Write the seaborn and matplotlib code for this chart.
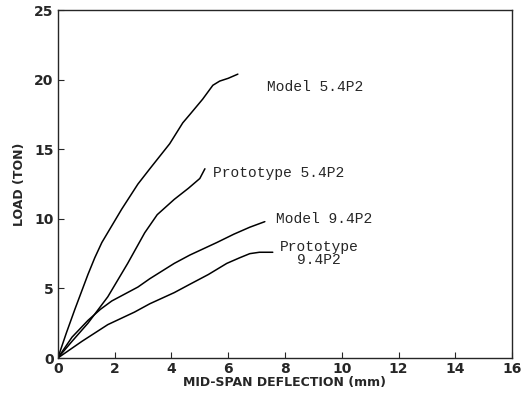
import matplotlib
matplotlib.use("Agg")
import matplotlib.pyplot as plt
import seaborn as sns
import pandas as pd

sns.set_style("ticks")
plt.rcParams['font.family'] = ['DejaVu Sans']

m54_x = [0, 0.3, 0.6, 1.06, 1.3, 1.55, 2.25, 2.82, 3.24, 3.94, 4.4, 4.65, 5.1, 5.46, 5.7, 6.0, 6.34]
m54_y = [0, 1.8, 3.5, 6.0, 7.2, 8.3, 10.7, 12.5, 13.6, 15.4, 16.9, 17.5, 18.6, 19.6, 19.9, 20.1, 20.4]
p54_x = [0, 0.5, 1.06, 1.76, 2.46, 3.06, 3.5, 4.1, 4.6, 5.0, 5.18]
p54_y = [0, 1.2, 2.5, 4.4, 6.8, 9.0, 10.3, 11.4, 12.2, 12.9, 13.6]
m94_x = [0, 0.5, 1.06, 1.5, 1.9, 2.82, 3.24, 4.1, 4.65, 5.6, 6.2, 6.76, 7.29]
m94_y = [0, 1.5, 2.7, 3.5, 4.1, 5.1, 5.7, 6.8, 7.4, 8.3, 8.9, 9.4, 9.8]
p94_x = [0, 0.85, 1.76, 2.7, 3.24, 4.1, 4.65, 5.3, 5.95, 6.4, 6.76, 7.1, 7.57]
p94_y = [0, 1.2, 2.4, 3.3, 3.9, 4.7, 5.3, 6.0, 6.8, 7.2, 7.5, 7.6, 7.6]
names = ["Model 5.4P2", "Prototype 5.4P2", "Model 9.4P2", "Prototype 9.4P2"]

frames = []
for n, xs, ys in zip(names, [m54_x, p54_x, m94_x, p94_x], [m54_y, p54_y, m94_y, p94_y]):
    frames.append(pd.DataFrame({"x": xs, "y": ys, "series": n}))
df = pd.concat(frames, ignore_index=True)

fig = plt.figure(figsize=(5.21, 4.05), dpi=100)
ax = fig.add_axes([0.111, 0.116, 0.872, 0.859])
sns.lineplot(data=df, x="x", y="y", units="series", estimator=None, sort=False,
             color="black", linewidth=1.1, ax=ax, legend=False)

ax.set_xlim(0, 16)
ax.set_ylim(0, 25)
ax.set_xticks(range(0, 17, 2))
ax.set_yticks(range(0, 26, 5))
ax.tick_params(direction="in", length=4, labelsize=10, pad=3)
for lab in ax.get_xticklabels() + ax.get_yticklabels():
    lab.set_fontweight("bold")
for s in ax.spines.values():
    s.set_linewidth(1.0)
ax.set_xlabel("MID-SPAN DEFLECTION (mm)", fontsize=9, fontweight="bold", labelpad=0)
ax.set_ylabel("LOAD (TON)", fontsize=9, fontweight="bold", labelpad=6)

mono = "Liberation Mono"
ax.text(7.36, 19.5, "Model 5.4P2", family=mono, fontsize=10.5, va="center")
ax.text(5.46, 13.3, "Prototype 5.4P2", family=mono, fontsize=10.5, va="center")
ax.text(7.68, 10.0, "Model 9.4P2", family=mono, fontsize=10.5, va="center")
ax.text(9.2, 8.5, "Prototype\n9.4P2", family=mono, fontsize=10.5, va="top", ha="center",
        multialignment="center", linespacing=0.9)

fig.savefig("out.png", dpi=100)
